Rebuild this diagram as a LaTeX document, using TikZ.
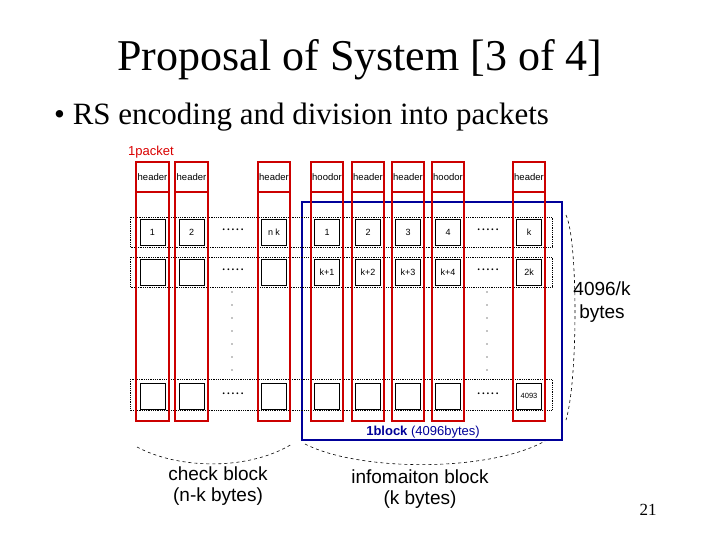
\documentclass[tikz,border=0pt]{standalone}
\usepackage{fontspec}
\setmainfont{Liberation Serif}
\setsansfont{Liberation Sans}
\begin{document}
\begin{tikzpicture}[x=1pt,y=-1pt,
  col/.style={draw=red!80!black,line width=1.5pt},
  sq/.style={draw=black,line width=0.6pt,minimum width=25pt,minimum height=26pt,inner sep=0pt,font=\sffamily\fontsize{9}{9}\selectfont},
  rowbox/.style={draw=black,densely dotted,line width=0.8pt},
  hd/.style={font=\sffamily\fontsize{9.5}{10}\selectfont,inner sep=0pt},
  lab/.style={font=\sffamily\fontsize{19}{21}\selectfont,align=center,inner sep=0pt}]
\useasboundingbox (0,0) rectangle (720,540);
\node[font=\fontsize{44}{48}\selectfont] (title) at (360,60) {Proposal of System [3 of 4]};
\node[anchor=west,font=\fontsize{31}{34}\selectfont,inner sep=0pt] (bul) at (54,117) {\textbullet\ RS encoding and division into packets};
\node[anchor=west,text=red!85!black,font=\sffamily\fontsize{13}{14}\selectfont,inner sep=0pt] (pk) at (128,152) {1packet};
% blue block
\draw[draw=blue!60!black,line width=1.2pt] (302,202) rectangle (562,440);
\node[text=blue!60!black,font=\sffamily\fontsize{13}{14}\selectfont,inner sep=0pt] (blk) at (423,432) {\textbf{1block} (4096bytes)};
% rows
\draw[rowbox] (130,217) rectangle (552,247);
\draw[rowbox] (130,257) rectangle (552,287);
\draw[rowbox] (130,379) rectangle (552,410);
% columns
\foreach \xa/\xb/\h/\i in {136/169/header/1,175/208/header/2,258/290/header/3,311/343/hoodor/4,352/384/header/5,392/424/header/6,432/464/hoodor/7,513/545/header/8}{
  \draw[col] (\xa,162) rectangle (\xb,421);
  \draw[col] (\xa,192) -- (\xb,192);
  \node[hd] (h\i) at ({(\xa+\xb)/2},177) {\h};
}
% squares
\foreach \xc/\a/\b/\c/\i in {152.5/1//\ /1,191.5/2//\ /2,274/n k//\ /3,327/1/k+1/\ /4,368/2/k+2/\ /5,408/3/k+3/\ /6,448/4/k+4/\ /7,529/k/2k/4093/8}{
  \node[sq] (a\i) at (\xc,232) {\a};
  \node[sq] (b\i) at (\xc,272) {\b};
  \node[sq,font=\sffamily\fontsize{7.5}{8}\selectfont] (c\i) at (\xc,396) {\c};
}
\foreach \y in {232,272,396}{
  \node[font=\bfseries\fontsize{11}{11}\selectfont,inner sep=0pt] at (233,\y-2) {.\,.\,.\,.\,.};
  \node[font=\bfseries\fontsize{11}{11}\selectfont,inner sep=0pt] at (488,\y-2) {.\,.\,.\,.\,.};
}
\foreach \y in {292,305,...,372}{
  \fill (232,\y) circle (0.7pt);
  \fill (487,\y) circle (0.7pt);
}
% braces
\draw[dashed,line width=0.6pt] (566,215) .. controls (578,240) and (578,380) .. (566,420);
\node[lab,font=\sffamily\fontsize{19}{23}\selectfont] (bytes) at (602,302) {4096/k\\bytes};
\draw[dashed,line width=0.6pt] (137,447) .. controls (180,470) and (250,470) .. (292,444);
\draw[dashed,line width=0.6pt] (305,444) .. controls (360,472) and (490,472) .. (545,441);
\node[lab] (chk) at (218,486) {check block\\(n-k bytes)};
\node[lab] (inf) at (420,489) {infomaiton block\\(k bytes)};
\node[font=\fontsize{17}{18}\selectfont,inner sep=0pt] (num) at (648,510) {21};
\end{tikzpicture}
\end{document}
